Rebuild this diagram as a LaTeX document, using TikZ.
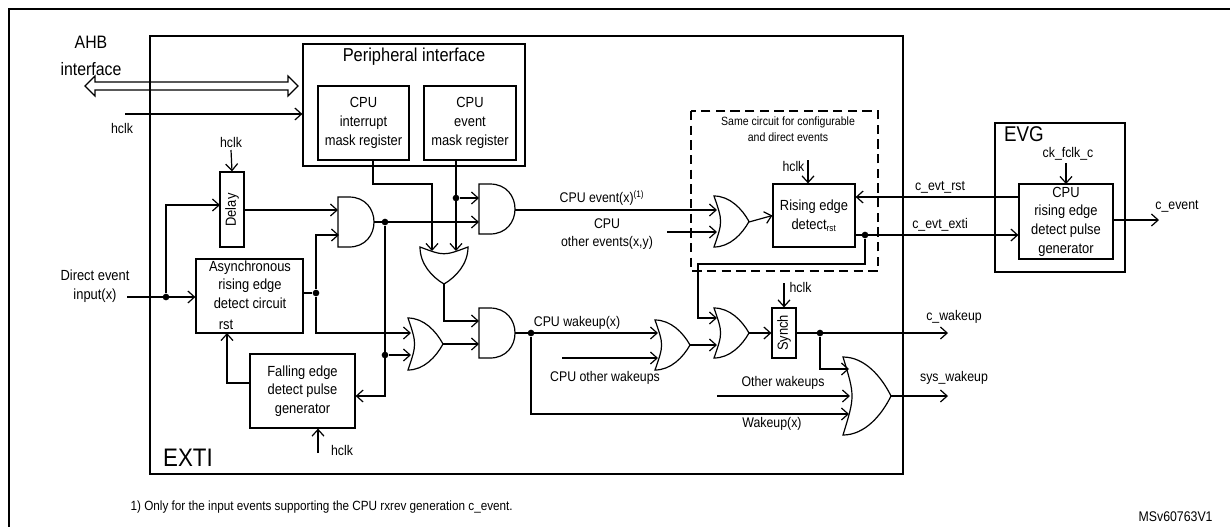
\documentclass[tikz,border=0pt]{standalone}
\usepackage{fontspec}
\setmainfont{Liberation Sans}[FakeStretch=0.88]
\usetikzlibrary{arrows.meta}
\newcommand\fsz[2]{\fontsize{#1}{#2}\selectfont}
\newcommand\ANDg[4]{\draw[gate] (#1,#2) -- ({#3-(#4-#2)/2},#2) .. controls ({#3-(#4-#2)/2+0.6667*(#4-#2)},#2) and ({#3-(#4-#2)/2+0.6667*(#4-#2)},#4) .. ({#3-(#4-#2)/2},#4) -- (#1,#4) -- cycle;}
\newcommand\ORg[4]{\draw[gate] (#1,#2) .. controls ({#1+0.25*(#3-#1)},{(#2+#4)/2}) .. (#1,#4)
  .. controls ({#1+0.45*(#3-#1)},#4) and ({#3-0.2*(#3-#1)},{#4-0.25*(#4-#2)}) .. (#3,{(#2+#4)/2})
  .. controls ({#3-0.2*(#3-#1)},{#2+0.25*(#4-#2)}) and ({#1+0.45*(#3-#1)},#2) .. cycle;}
\newcommand\boxn[6]{\node[box,minimum width={(#4-#2)*0.75pt},minimum height={(#5-#3)*0.75pt}] (#1) at ({(#2+#4)/2},{(#3+#5)/2}) {#6};}
\begin{document}
\begin{tikzpicture}[x=0.75pt,y=-0.75pt,line width=0.9pt,
  >={Straight Barb[length=5pt,width=9pt]},
  box/.style={draw,line width=0.9pt,inner sep=0pt,align=center,font=\fsz{11}{14}},
  gate/.style={line width=0.9pt},
  txt/.style={inner sep=0pt,align=center,font=\fsz{11}{14}},
  lbl/.style={inner sep=0pt,align=center,font=\fsz{10.5}{13}},
  dot/.style={circle,fill,inner sep=0pt,minimum size=5pt}]
\useasboundingbox (0,0) rectangle (1230,526);
\draw[line width=1.6pt] (9,530) -- (9,9) -- (1232,9);
% boxes
\boxn{exti}{150}{36}{903}{474}{}
\boxn{periph}{303}{44}{525}{166}{}
\node[inner sep=0pt,font=\fsz{14}{16}] (ptitle) at (414,57) {Peripheral interface};
\boxn{imr}{318}{86}{409}{160}{CPU\\interrupt\\mask register}
\boxn{emr}{424}{86}{516}{160}{CPU\\event\\mask register}
\boxn{delay}{220}{172}{244}{247}{}
\node[rotate=90,txt] (delayt) at (232,210) {Delay};
\boxn{async}{196}{259}{303}{333}{}
\node[txt,anchor=north] (asynct) at (250,260) {Asynchronous\\rising edge\\detect circuit};
\node[txt] (rstt) at (226,325) {rst};
\boxn{fall}{250}{354}{355}{428}{Falling edge\\detect pulse\\generator}
\draw[dashed,line width=0.9pt,dash pattern=on 7pt off 4pt] (691,111) rectangle (878,271);
\node[inner sep=0pt,align=center,font=\fsz{9}{12}] (samet) at (788,129) {Same circuit for configurable\\and direct events};
\boxn{red}{773}{184}{855}{247}{Rising edge\\detect\textsubscript{\fsz{7}{8}rst}}
\boxn{evg}{995}{123}{1125}{272}{}
\node[inner sep=0pt,font=\fsz{16}{18}] (evgt) at (1024,134) {EVG};
\boxn{cpure}{1019}{184}{1113}{259}{CPU\\rising edge\\detect pulse\\generator}
\boxn{synch}{772}{308}{796}{358}{}
\node[rotate=90,txt] (syncht) at (784,333) {Synch};
\node[inner sep=0pt,font=\fsz{19}{20}] (extit) at (188,458) {EXTI};
% gates
\ANDg{338}{197}{374}{247}
\ANDg{479}{184}{515}{234}
\ANDg{479}{308}{515}{358}
\ORg{408}{318}{443}{370}
\ORg{655}{320}{690}{370}
\ORg{714}{196}{749}{247}
\ORg{714}{308}{749}{358}
\ORg{843}{357}{891}{435}
\draw[gate] (420,247) .. controls (444,256) .. (468,247)
  .. controls (468,264) and (456,277) .. (444,284)
  .. controls (432,277) and (420,264) .. cycle;
% AHB
\draw[line width=0.9pt] (85,86) -- (95,76) -- (95,82) -- (288,82) -- (288,76) -- (298,86) -- (288,96) -- (288,90) -- (95,90) -- (95,96) -- cycle;
\node[inner sep=0pt,align=center,font=\fsz{13.5}{20}] (ahb) at (91,56) {AHB\\interface};
\coordinate (hc0) at (125,114);
\draw[->] (hc0) -- (hc0 -| periph.west);
\node[lbl] (hclk1) at (122,128) {hclk};
\node[lbl] (hclk2) at (231,142) {hclk};
\draw[->] (231,150) -- (delay.north);
% input
\node[txt] (dei) at (95,286) {Direct event\\input(x)};
\coordinate (in0) at (127,297);
\node[dot] (d1) at (166,297) {};
\draw[->] (in0) -- (in0 -| async.west);
\draw[->] (d1) -- (166,205) -- (220,205);
\draw[->] (244,210) -- (338,210);
\node[dot] (d2) at (316,293) {};
\draw (303,293) -- (d2);
\draw[->] (d2) -- (316,235) -- (339,235);
\draw[->] (d2) -- (316,333) -- (411,333);
\node[dot] (d3) at (385,222) {};
\draw[->] (374,222) -- (479,222);
\draw[->] (d3) -- (385,396) -- (fall.east |- 0,396);
\node[dot] (d4) at (385,355) {};
\draw[->] (d4) -- (411,355);
\draw[->] (imr.south -| 373,0) -- (373,184) -- (432,184) -- (432,251);
\draw[->] (emr.south -| 456,0) -- (456,251);
\node[dot] (d5) at (456,198) {};
\draw[->] (d5) -- (479,198);
\draw[->] (444,284) -- (444,321) -- (479,321);
\draw[->] (443,344) -- (479,344);
\draw[->] (515,210) -- (717,210);
\node[lbl,anchor=south] (cpuev) at (602,206) {CPU event(x)\textsuperscript{\fsz{7}{8}(1)}};
\node[lbl] (cpuoe) at (607,234) {CPU\\other events(x,y)};
\draw[->] (667,232) -- (717,232);
\draw[->] (749,222) -- (red.west);
\node[lbl,anchor=east] (hclk3) at (805,166) {hclk};
\draw[->] (808,160) -- (red.north -| 808,0);
\draw[->] (cpure.west |- 0,197) -- (red.east |- 0,197);
\node[lbl] (cer) at (940,187) {c\_evt\_rst};
\node[dot] (d6) at (865,235) {};
\draw[->] (red.east |- 0,235) -- (cpure.west |- 0,235);
\node[lbl] (cee) at (940,225) {c\_evt\_exti};
\draw[->] (d6) -- (865,264) -- (698,264) -- (698,318) -- (717,318);
\node[lbl] (ckf) at (1068,154) {ck\_fclk\_c};
\draw[->] (1066,163) -- (1066,184);
\draw[->] (1113,220) -- (1159,220);
\node[lbl] (cev) at (1177,206) {c\_event};
% wakeup
\node[dot] (d7) at (531,333) {};
\draw[->] (515,333) -- (658,333);
\node[lbl] (cwx) at (577,323) {CPU wakeup(x)};
\draw[->] (562,358) -- (658,358);
\node[lbl] (cow) at (605,378) {CPU other wakeups};
\draw[->] (690,345) -- (717,345);
\draw[->] (749,333) -- (synch.west);
\draw[->] (784,283) -- (synch.north);
\node[lbl,anchor=west] (hclk4) at (789,287) {hclk};
\node[dot] (d8) at (820,333) {};
\draw[->] (synch.east) -- (948,333);
\node[lbl] (cwk) at (954,317) {c\_wakeup};
\draw[->] (d8) -- (820,369) -- (849,369);
\draw[->] (717,396) -- (850,396);
\node[lbl] (owk) at (783,383) {Other wakeups};
\draw[->] (d7) -- (531,414) -- (849,414);
\node[lbl] (wkx) at (772,424) {Wakeup(x)};
\draw[->] (891,396) -- (948,396);
\node[lbl] (swk) at (954,378) {sys\_wakeup};
% fall
\draw[->] (318,453) -- (fall.south -| 318,0);
\node[lbl] (hclk5) at (342,450) {hclk};
\draw[->] (fall.west |- 0,383) -- (227,383) -- (227,333);
% footnote
\node[inner sep=0pt,anchor=west,font=\fsz{10}{12}] (fn) at (130,507) {1) Only for the input events supporting the CPU rxrev generation c\_event.};
\node[inner sep=0pt,anchor=west,font=\fsz{10.5}{12}] (ms) at (1138,517) {MSv60763V1};
\end{tikzpicture}
\end{document}
